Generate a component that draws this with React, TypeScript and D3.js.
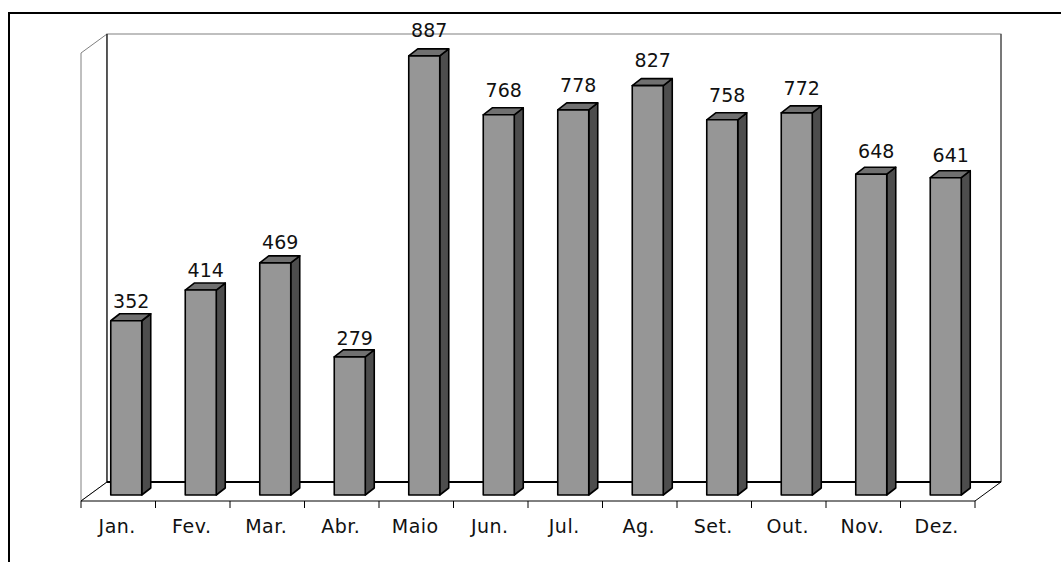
import React from "react";
import * as d3 from "d3";

const categories = ["Jan.", "Fev.", "Mar.", "Abr.", "Maio", "Jun.", "Jul.", "Ag.", "Set.", "Out.", "Nov.", "Dez."];
const values = [352, 414, 469, 279, 887, 768, 778, 827, 758, 772, 648, 641];
const yDomainMax = 905;

const W = 1061;
const H = 562;
// plot geometry (front floor line and depth vector)
const X0 = 81;
const X1 = 975;
const FLOOR_Y = 501;
const TOP_Y = 53;
const DX = 26;
const DY = -19;
const BAR_W = 31;
const F_OFF = [8, -6];
const B_OFF = [17, -13];

export default function App() {
  const x = d3.scaleBand<string>().domain(categories).range([X0, X1]).padding(0);
  const y = d3.scaleLinear().domain([0, yDomainMax]).range([FLOOR_Y, TOP_Y]);
  const yLabel = d3.scaleLinear().domain([0, yDomainMax]).range([486.3, 486.3 - 0.5066 * yDomainMax]);
  const bw = x.bandwidth();
  const font = "'DejaVu Sans', Verdana, sans-serif";

  const ticks = categories.map((c) => x(c)!).concat([X1]);

  return (
    <svg
      width={W}
      height={H}
      style={{ position: "absolute", left: 0, top: 0, background: "#fff" }}
      xmlns="http://www.w3.org/2000/svg"
    >
      {/* outer frame */}
      <rect x={9} y={13} width={W + 20} height={H + 20} fill="none" stroke="#000" strokeWidth={2} />

      {/* left side wall */}
      <polygon
        points={`${X0},${FLOOR_Y} ${X0},${TOP_Y} ${X0 + DX},${TOP_Y + DY} ${X0 + DX},${FLOOR_Y + DY}`}
        fill="#fff"
        stroke="#808080"
        strokeWidth={1}
      />
      {/* back wall */}
      <rect
        x={X0 + DX}
        y={TOP_Y + DY}
        width={X1 - X0}
        height={FLOOR_Y - TOP_Y}
        fill="#fff"
        stroke="#808080"
        strokeWidth={1}
      />
      <line x1={X0 + DX} y1={TOP_Y + DY} x2={X0 + DX} y2={FLOOR_Y + DY} stroke="#000" strokeWidth={1} />
      <line x1={X1 + DX} y1={TOP_Y + DY} x2={X1 + DX} y2={FLOOR_Y + DY} stroke="#333" strokeWidth={1} />
      {/* floor */}
      <polygon
        points={`${X0},${FLOOR_Y} ${X1},${FLOOR_Y} ${X1 + DX},${FLOOR_Y + DY} ${X0 + DX},${FLOOR_Y + DY}`}
        fill="#fff"
        stroke="#000"
        strokeWidth={1}
      />
      <line x1={X0 + DX} y1={FLOOR_Y + DY} x2={X1 + DX} y2={FLOOR_Y + DY} stroke="#000" strokeWidth={2} />

      {/* ticks */}
      {ticks.map((t, i) => (
        <line key={i} x1={t} y1={FLOOR_Y} x2={t} y2={FLOOR_Y + 7} stroke="#000" strokeWidth={1} />
      ))}

      {/* bars */}
      {categories.map((c, i) => {
        const v = values[i];
        const cx = x(c)! + bw / 2;
        const l = cx - BAR_W / 2 + F_OFF[0];
        const r = l + BAR_W;
        const yb = y(0) + F_OFF[1];
        const yt = y(v) + F_OFF[1];
        const ddx = B_OFF[0] - F_OFF[0];
        const ddy = B_OFF[1] - F_OFF[1];
        return (
          <g key={c} stroke="#000" strokeWidth={1.6} strokeLinejoin="round">
            <polygon
              points={`${r},${yb} ${r},${yt} ${r + ddx},${yt + ddy} ${r + ddx},${yb + ddy}`}
              fill="#4d4d4d"
            />
            <polygon
              points={`${l},${yt} ${r},${yt} ${r + ddx},${yt + ddy} ${l + ddx},${yt + ddy}`}
              fill="#707070"
            />
            <rect x={l} y={yt} width={BAR_W} height={yb - yt} fill="#969696" />
          </g>
        );
      })}

      {/* value labels */}
      {categories.map((c, i) => (
        <text
          key={c}
          x={x(c)! + bw / 2 + 13}
          y={yLabel(values[i])}
          textAnchor="middle"
          fontFamily={font}
          fontSize={19}
          fill="#111"
        >
          {values[i]}
        </text>
      ))}

      {/* category labels */}
      {categories.map((c) => (
        <text
          key={c}
          x={x(c)! + bw / 2 - 1}
          y={533}
          textAnchor="middle"
          fontFamily={font}
          fontSize={19}
          letterSpacing={0.5}
          fill="#111"
        >
          {c}
        </text>
      ))}
    </svg>
  );
}
